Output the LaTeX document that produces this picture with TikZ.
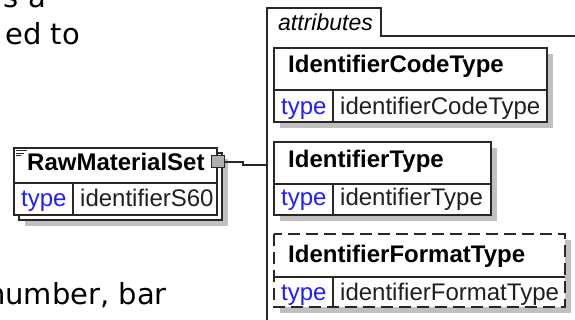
\documentclass[tikz,border=0pt]{standalone}
\usepackage{fontspec}
\setmainfont{Liberation Sans}
\newfontfamily\pagefont{DejaVu Sans}
\usetikzlibrary{positioning}
\definecolor{BoxLine}{RGB}{40,40,40}
\definecolor{ShadowGray}{RGB}{192,192,192}
\definecolor{TypeBlue}{RGB}{30,30,255}
\definecolor{ValueText}{RGB}{35,30,30}
\definecolor{ExpGray}{RGB}{175,175,175}
\tikzset{
  shadowbox/.style={fill=ShadowGray, draw=none},
  elembox/.style={draw=BoxLine, fill=white, line width=1.4pt},
  optbox/.style={elembox, dash pattern=on 12pt off 6pt},
  divline/.style={draw=BoxLine, line width=1.3pt},
  panelline/.style={draw=BoxLine, line width=1.3pt},
  titletxt/.style={anchor=base west, inner sep=0pt, font=\fontsize{24}{28}\selectfont\bfseries},
  typetxt/.style={anchor=base west, inner sep=0pt, font=\fontsize{24}{28}\selectfont, text=TypeBlue},
  valtxt/.style={anchor=base west, inner sep=0pt, font=\fontsize{24}{28}\selectfont, text=ValueText},
  tabtxt/.style={anchor=base west, inner sep=0pt, font=\fontsize{23}{27}\selectfont\itshape},
  pagetxt/.style={anchor=base east, inner sep=0pt, font=\pagefont\fontsize{29}{35}\selectfont},
  expbox/.style={draw=BoxLine, fill=ExpGray, line width=1pt, minimum width=13pt, minimum height=12pt, inner sep=0pt},
}
\begin{document}
\begin{tikzpicture}[x=1pt, y=-1pt]
  \useasboundingbox (0,0) rectangle (575,320);
  % page text behind the diagram
  \node[pagetxt] (line1) at (46,8) {s a};
  \node[pagetxt] (line2) at (80,45) {ed to};
  \node[pagetxt] (line3) at (167,304) {number, bar};

  % RawMaterialSet (stacked)
  \fill[shadowbox] (25,159) rectangle (228,226);
  \draw[elembox] (19,153) rectangle (222,220);
  \draw[elembox] (14,148) rectangle (217,215);
  \draw[divline] (14,183) -- (217,183);
  \draw[divline] (73,183) -- (73,215);
  \draw[BoxLine, line width=0.8pt] (16,150.5) -- (27,150.5) (16,153) -- (24,153) (16,155.5) -- (21,155.5);
  \node[titletxt] (rawtitle) at (27,171) {RawMaterialSet};
  \node[typetxt] (rawtype) at (21,207) {type};
  \node[valtxt] (rawval) at (80,207) {identifierS60};
  \node[expbox] (rawexp) at (218,162) {};

  % attributes panel
  \coordinate (panelbot) at (267,320);
  \coordinate (panelend) at (575,36);
  \draw[panelline] (panelbot) -- (267,8) -- (381,8) -- (381,36) -- (panelend);
  \node[tabtxt] (attrtab) at (278,31) {attributes};
  \coordinate (panelhit) at (267,165);
  \draw[BoxLine, line width=1.2pt] (rawexp.east) -- (243,162) -- (243,165) -- (panelhit);

  % IdentifierCodeType
  \fill[shadowbox] (280,54) rectangle (553,128);
  \draw[elembox] (274,48) rectangle (547,122);
  \draw[divline] (274,90) -- (547,90);
  \draw[divline] (333,90) -- (333,122);
  \node[titletxt] (codetitle) at (288,73) {IdentifierCodeType};
  \node[typetxt] (codetype) at (281,115) {type};
  \node[valtxt] (codeval) at (340,115) {identifierCodeType};

  % IdentifierType
  \fill[shadowbox] (280,148) rectangle (497,221);
  \draw[elembox] (274,142) rectangle (491,215);
  \draw[divline] (274,184) -- (491,184);
  \draw[divline] (333,184) -- (333,215);
  \node[titletxt] (idtitle) at (288,168) {IdentifierType};
  \node[typetxt] (idtype) at (281,206) {type};
  \node[valtxt] (idval) at (340,206) {identifierType};

  % IdentifierFormatType (optional)
  \fill[shadowbox] (280,240) rectangle (571,313);
  \draw[optbox] (274,234) rectangle (565,307);
  \draw[divline] (274,277) -- (565,277);
  \draw[divline] (333,277) -- (333,307);
  \node[titletxt] (fmttitle) at (288,262) {IdentifierFormatType};
  \node[typetxt] (fmttype) at (281,300) {type};
  \node[valtxt] (fmtval) at (340,300) {identifierFormatType};
\end{tikzpicture}
\end{document}
